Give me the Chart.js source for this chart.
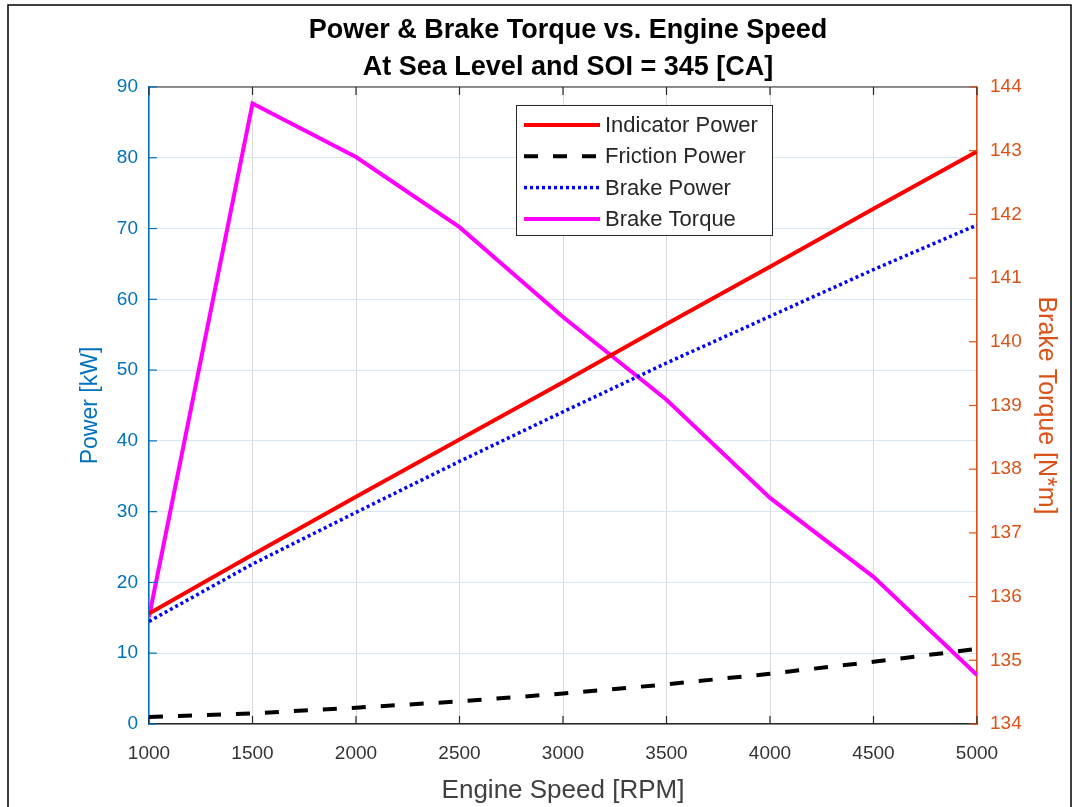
<!DOCTYPE html>
<html>
<head>
<meta charset="utf-8">
<script src="https://cdn.jsdelivr.net/npm/chart.js@4.4.1/dist/chart.umd.min.js"></script>
<style>
    html, body { margin: 0; padding: 0; background: #fff; }
    #wrap { width: 1076px; height: 807px; }
</style>
</head>
<body>
<div id="wrap"><canvas id="engineChart" width="1076" height="807"></canvas></div>
<script>
// Engine speed sweep [RPM]
const speeds = [1000, 1500, 2000, 2500, 3000, 3500, 4000, 4500, 5000];

// Power [kW]
const indicatorPower = [15.6, 23.9, 32.1, 40.2, 48.3, 56.5, 64.6, 72.8, 80.9];
const frictionPower = [1.0, 1.5, 2.3, 3.2, 4.3, 5.6, 7.1, 8.8, 10.6];
const brakePower = [14.5, 22.6, 29.9, 37.1, 44.1, 51.0, 57.6, 64.2, 70.5];

// Brake torque [N*m]
const brakeTorque = [135.68, 143.74, 142.90, 141.80, 140.39, 139.09, 137.55, 136.31, 134.77];

const titleLines = ['Power & Brake Torque vs. Engine Speed', 'At Sea Level and SOI = 345 [CA]'];

const BLUE = '#0072BD';
const ORANGE = '#D95319';
const DARK = '#262626';
const FONT = "'Liberation Sans', Arial, sans-serif";

const toPoints = (ys) => speeds.map((s, i) => ({ x: s, y: ys[i] }));

// white figure frame
const framePlugin = {
    id: 'frame',
    beforeDraw(chart) {
        const ctx = chart.ctx;
        ctx.save();
        ctx.fillStyle = '#fff';
        ctx.fillRect(0, 0, chart.width, chart.height);
        ctx.strokeStyle = '#000';
        ctx.lineWidth = 1.5;
        ctx.strokeRect(8, 5, 1063, 830);
        ctx.restore();
    }
};

// tick marks pointing into the plot, plus the top box edge
const innerTicks = {
    id: 'innerTicks',
    afterDatasetsDraw(chart) {
        const { ctx, chartArea: a, scales } = chart;
        const len = 8;
        ctx.save();
        ctx.lineWidth = 1.2;

        ctx.strokeStyle = DARK;
        ctx.beginPath();
        ctx.moveTo(a.left, a.top);
        ctx.lineTo(a.right, a.top);
        ctx.stroke();
        scales.x.ticks.forEach(t => {
            const px = scales.x.getPixelForValue(t.value);
            ctx.beginPath();
            ctx.moveTo(px, a.bottom); ctx.lineTo(px, a.bottom - len);
            ctx.moveTo(px, a.top); ctx.lineTo(px, a.top + len);
            ctx.stroke();
        });

        ctx.strokeStyle = BLUE;
        scales.y.ticks.forEach(t => {
            const py = scales.y.getPixelForValue(t.value);
            ctx.beginPath();
            ctx.moveTo(a.left, py); ctx.lineTo(a.left + len, py);
            ctx.stroke();
        });

        ctx.strokeStyle = ORANGE;
        scales.y1.ticks.forEach(t => {
            const py = scales.y1.getPixelForValue(t.value);
            ctx.beginPath();
            ctx.moveTo(a.right, py); ctx.lineTo(a.right - len, py);
            ctx.stroke();
        });
        ctx.restore();
    }
};

// boxed legend inside the plot, near the top
const boxLegend = {
    id: 'boxLegend',
    afterDraw(chart) {
        const ctx = chart.ctx;
        const a = chart.chartArea;
        const x0 = a.left + 367, y0 = a.top + 18, w = 256, h = 130;
        const rowH = 31.3;
        ctx.save();
        ctx.fillStyle = '#fff';
        ctx.fillRect(x0, y0, w, h);
        ctx.strokeStyle = DARK;
        ctx.lineWidth = 1;
        ctx.strokeRect(x0 + 0.5, y0 + 0.5, w, h);
        ctx.font = '22px ' + FONT;
        ctx.textBaseline = 'middle';
        chart.data.datasets.forEach((ds, i) => {
            const cy = y0 + 20 + i * rowH;
            ctx.strokeStyle = ds.borderColor;
            ctx.lineWidth = ds.borderWidth;
            ctx.setLineDash(ds.borderDash || []);
            ctx.beginPath();
            ctx.moveTo(x0 + 8, cy);
            ctx.lineTo(x0 + 84, cy);
            ctx.stroke();
            ctx.setLineDash([]);
            ctx.fillStyle = DARK;
            ctx.fillText(ds.label, x0 + 89, cy + 1);
        });
        ctx.restore();
    }
};

new Chart(document.getElementById('engineChart'), {
    type: 'line',
    data: {
        datasets: [
            {
                label: 'Indicator Power',
                data: toPoints(indicatorPower),
                borderColor: '#ff0000',
                borderWidth: 4,
                yAxisID: 'y'
            },
            {
                label: 'Friction Power',
                data: toPoints(frictionPower),
                borderColor: '#000000',
                borderWidth: 4,
                borderDash: [14, 15],
                yAxisID: 'y'
            },
            {
                label: 'Brake Power',
                data: toPoints(brakePower),
                borderColor: '#0000ff',
                borderWidth: 3.5,
                borderDash: [3, 3],
                yAxisID: 'y'
            },
            {
                label: 'Brake Torque',
                data: toPoints(brakeTorque),
                borderColor: '#ff00ff',
                borderWidth: 4,
                yAxisID: 'y1'
            }
        ]
    },
    options: {
        responsive: false,
        animation: false,
        events: [],
        elements: { point: { radius: 0 }, line: { tension: 0, borderCapStyle: 'butt' } },
        layout: { padding: { left: 70, right: 10, top: 0, bottom: 0 } },
        plugins: {
            legend: { display: false },
            tooltip: { enabled: false },
            title: {
                display: true,
                text: titleLines,
                color: '#000',
                font: { family: FONT, size: 27, weight: 'bold', lineHeight: 1.37 },
                padding: { top: 12, bottom: 1 }
            }
        },
        scales: {
            x: {
                type: 'linear',
                min: 1000,
                max: 5000,
                afterFit: (s) => { s.height = 83; },
                ticks: {
                    stepSize: 500,
                    padding: 18,
                    color: '#333',
                    font: { family: FONT, size: 19 },
                    maxRotation: 0,
                    callback: (v) => String(v)
                },
                grid: { color: '#d9d9d9', lineWidth: 1, drawTicks: false },
                border: { color: DARK, width: 1.5 },
                title: {
                    display: true,
                    text: 'Engine Speed [RPM]',
                    color: '#404040',
                    font: { family: FONT, size: 26 },
                    padding: { top: 4, bottom: 1 }
                }
            },
            y: {
                type: 'linear',
                position: 'left',
                min: 0,
                max: 90,
                afterFit: (s) => { s.width = 79; },
                ticks: {
                    stepSize: 10,
                    padding: 11,
                    color: BLUE,
                    font: { family: FONT, size: 19 }
                },
                grid: { color: '#d8e7f4', lineWidth: 1, drawTicks: false },
                border: { color: BLUE, width: 1.5 },
                title: {
                    display: true,
                    text: 'Power [kW]',
                    color: BLUE,
                    font: { family: FONT, size: 23 },
                    padding: { top: 7, bottom: 4 }
                }
            },
            y1: {
                type: 'linear',
                position: 'right',
                min: 134,
                max: 144,
                afterFit: (s) => { s.width = 89; },
                ticks: {
                    stepSize: 1,
                    padding: 13,
                    color: ORANGE,
                    font: { family: FONT, size: 19 }
                },
                grid: { display: false, drawTicks: false },
                border: { color: ORANGE, width: 1.5 },
                title: {
                    display: true,
                    text: 'Brake Torque [N*m]',
                    color: ORANGE,
                    font: { family: FONT, size: 25 },
                    padding: { top: 5, bottom: 4 }
                }
            }
        }
    },
    plugins: [framePlugin, innerTicks, boxLegend]
});
</script>
</body>
</html>
